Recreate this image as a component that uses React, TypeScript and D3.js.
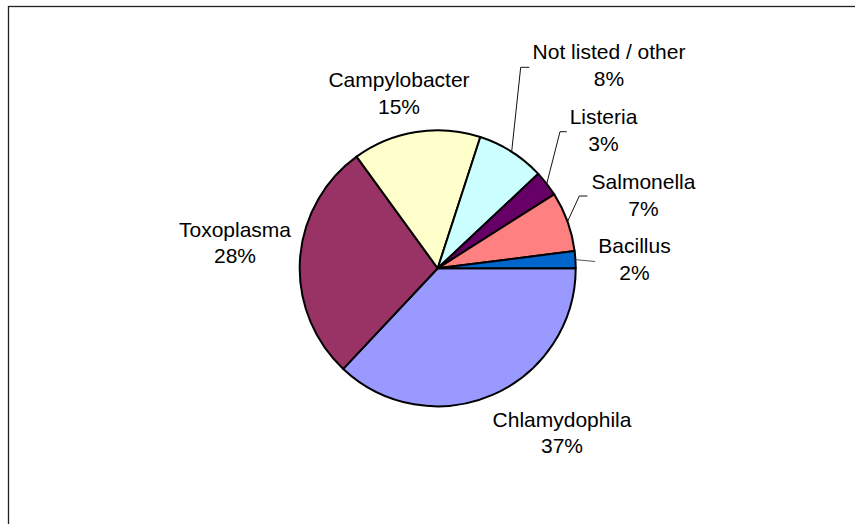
import React from "react";
import * as d3 from "d3";

// Share of reported cases by pathogen (percent), in drawing order clockwise from 3 o'clock
const categories = [
  "Chlamydophila",
  "Toxoplasma",
  "Campylobacter",
  "Not listed / other",
  "Listeria",
  "Salmonella",
  "Bacillus",
];
const shares = [37, 28, 15, 8, 3, 7, 2];
const colors = ["#9999FF", "#993366", "#FFFFCC", "#CCFFFF", "#660066", "#FF8080", "#0066CC"];

// Label placement: first baseline and centre x of each two-line label
const labelPos: [number, number][] = [
  [562, 426.7],
  [235, 236.7],
  [399, 87.3],
  [609, 59.3],
  [603.5, 124],
  [643.5, 189.3],
  [634.5, 253],
];
// Leader line end points (elbow and tail) for the small slices; null when none
const leaderEnds: ([number, number][] | null)[] = [
  null,
  null,
  null,
  [[520.7, 67.3], [529.3, 67.3]],
  [[560, 131.7], [566.7, 131.7]],
  [[579.3, 196], [587.3, 196]],
  [[595, 261.5]],
];

const W = 855;
const H = 524;
const cx = 437.7;
const cy = 268.3;
const R = 138;
const LINE = 26.7;

export default function App() {
  const pie = d3
    .pie<number>()
    .sort(null)
    .value((d) => d)
    .startAngle(Math.PI / 2)
    .endAngle(Math.PI / 2 + 2 * Math.PI);
  const arcs = pie(shares);
  const arc = d3.arc<d3.PieArcDatum<number>>().innerRadius(0).outerRadius(R);

  return (
    <svg
      width={W}
      height={H}
      style={{ position: "absolute", left: 0, top: 0, background: "#fff" }}
      fontFamily="'Liberation Sans', Arial, sans-serif"
    >
      <rect x={8.5} y={6.5} width={W + 20} height={H + 20} fill="#fff" stroke="#222" strokeWidth={1.3} />
      <g transform={`translate(${cx},${cy})`}>
        {arcs.map((a, i) => (
          <path key={categories[i]} d={arc(a) ?? ""} fill={colors[i]} stroke="#000" strokeWidth={2} strokeLinejoin="round" />
        ))}
      </g>
      {arcs.map((a, i) => {
        const ends = leaderEnds[i];
        if (!ends) return null;
        const mid = (a.startAngle + a.endAngle) / 2;
        const start: [number, number] = [cx + R * Math.sin(mid), cy - R * Math.cos(mid)];
        const line = d3.line()([start, ...ends]) ?? "";
        return <path key={"l" + i} d={line} fill="none" stroke={i === 6 ? "#555" : "#111"} strokeWidth={1} />;
      })}
      {arcs.map((a, i) => {
        const [x, y] = labelPos[i];
        return (
          <text key={"t" + i} x={x} y={y} textAnchor="middle" fontSize={21} fill="#000">
            <tspan x={x}>{categories[i]}</tspan>
            <tspan x={x} dy={LINE}>{`${a.data}%`}</tspan>
          </text>
        );
      })}
    </svg>
  );
}
